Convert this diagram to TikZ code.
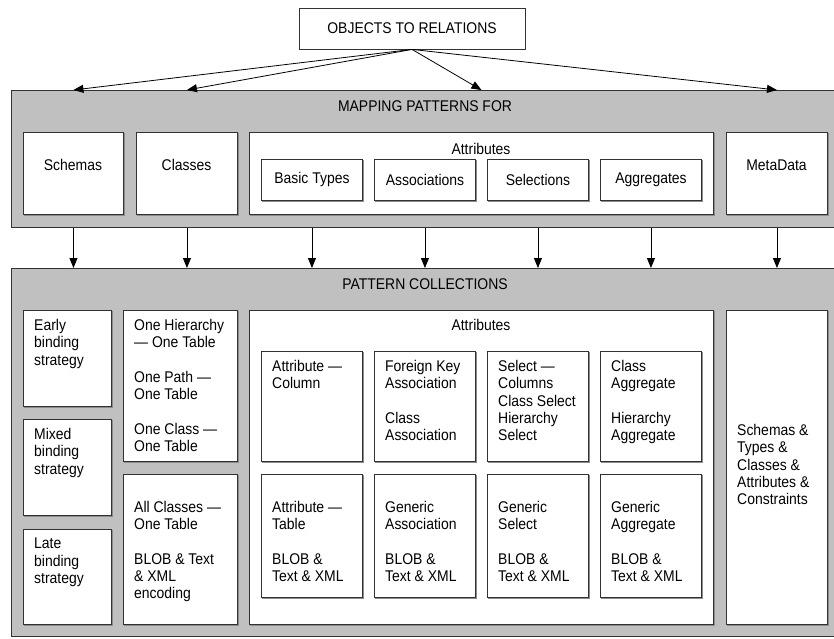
\documentclass[tikz,border=0pt]{standalone}
\usepackage{fontspec}
\setmainfont{Liberation Sans}[FakeStretch=0.9]
\usetikzlibrary{arrows.meta}
\definecolor{panelgray}{RGB}{192,192,192}
\definecolor{edge}{RGB}{50,50,50}
\definecolor{shade}{RGB}{140,140,140}

% a white box with its top-left corner, width and height in pt
\newcommand\cellbox[5]{%
  \node[cellstyle,minimum width=#4pt,minimum height=#5pt] (#1) at (#2,#3) {};}

\begin{document}
\begin{tikzpicture}[x=1pt,y=-1pt,
  panel/.style={draw=edge,line width=0.8pt,fill=panelgray,anchor=north west,inner sep=0pt},
  cellstyle/.style={draw=edge,line width=0.9pt,fill=white,anchor=north west,inner sep=0pt,
    preaction={draw=shade,line width=0.9pt,transform canvas={shift={(1pt,-1pt)}}}},
  lbl/.style={font=\fontsize{15.5}{17.3}\selectfont,inner sep=0pt},
  txt/.style={lbl,align=left,anchor=north west},
  arr/.style={-{Triangle[length=10pt,width=8pt]},line width=0.8pt}]
\clip (0,0) rectangle (834,638);
\fill[white] (0,0) rectangle (834,638);

% top box
\node[draw=edge,line width=0.8pt,fill=white,minimum width=226pt,minimum height=41pt,
      inner sep=0pt,lbl] (top) at (412,28.5) {OBJECTS TO RELATIONS};

% mapping patterns
\node[panel,minimum width=828pt,minimum height=137pt] (mp) at (11,90) {};
\node[lbl] (mphead) at (425,106) {MAPPING PATTERNS FOR};
\cellbox{schemas}{23}{132}{100}{82}
\cellbox{classes}{136}{132}{101}{82}
\cellbox{mattr}{249}{132}{464}{82}
\cellbox{meta}{726}{132}{101}{82}
\node[lbl] (tschemas) at (73,165) {Schemas};
\node[lbl] (tclasses) at (186.5,165) {Classes};
\node[lbl] (tmeta) at (776.5,165) {MetaData};
\node[lbl] (tmattr) at (481,149) {Attributes};
\node[cellstyle,lbl,minimum width=101pt,minimum height=41pt] (basic) at (261,159) {Basic Types};
\node[cellstyle,lbl,minimum width=101pt,minimum height=41pt] (assoc) at (374,159) {Associations};
\node[cellstyle,lbl,minimum width=101pt,minimum height=41pt] (sel) at (487,159) {Selections};
\node[cellstyle,lbl,minimum width=101pt,minimum height=41pt] (agg) at (600,159) {Aggregates};

% pattern collections
\node[panel,minimum width=828pt,minimum height=368pt] (pc) at (11,268) {};
\node[lbl] (pchead) at (425,284) {PATTERN COLLECTIONS};

\cellbox{early}{23}{310}{88}{96}
\cellbox{mixed}{23}{419}{88}{96}
\cellbox{late}{23}{529}{88}{95}
\node[txt] (tearly) at (34,319) {Early\\binding\\strategy};
\node[txt] (tmixed) at (34,428) {Mixed\\binding\\strategy};
\node[txt] (tlate) at (34,538) {Late\\binding\\strategy};

\cellbox{hier}{123}{310}{114}{151}
\cellbox{allcl}{123}{474}{114}{150}
\node[txt] (thier) at (134,319) {One Hierarchy\\— One Table\\[17.3pt]One Path —\\One Table\\[17.3pt]One Class —\\One Table};
\node[txt] (tallcl) at (134,501) {All Classes —\\One Table\\[17.3pt]BLOB \& Text\\\& XML\\encoding};

\cellbox{pattr}{249}{310}{464}{314}
\node[lbl] (tpattr) at (481,325) {Attributes};

\cellbox{acol}{261}{351}{101}{110}
\cellbox{fkey}{374}{351}{101}{110}
\cellbox{scol}{487}{351}{101}{110}
\cellbox{cagg}{600}{351}{101}{110}
\node[txt] (tacol) at (272,360) {Attribute —\\Column};
\node[txt] (tfkey) at (385,360) {Foreign Key\\Association\\[17.3pt]Class\\Association};
\node[txt] (tscol) at (498,360) {Select —\\Columns\\Class Select\\Hierarchy\\Select};
\node[txt] (tcagg) at (611,360) {Class\\Aggregate\\[17.3pt]Hierarchy\\Aggregate};

\cellbox{atab}{261}{474}{101}{123}
\cellbox{gass}{374}{474}{101}{123}
\cellbox{gsel}{487}{474}{101}{123}
\cellbox{gagg}{600}{474}{101}{123}
\node[txt] (tatab) at (272,501) {Attribute —\\Table\\[17.3pt]BLOB \&\\Text \& XML};
\node[txt] (tgass) at (385,501) {Generic\\Association\\[17.3pt]BLOB \&\\Text \& XML};
\node[txt] (tgsel) at (498,501) {Generic\\Select\\[17.3pt]BLOB \&\\Text \& XML};
\node[txt] (tgagg) at (611,501) {Generic\\Aggregate\\[17.3pt]BLOB \&\\Text \& XML};

\cellbox{all}{726}{310}{101}{314}
\node[txt] (tall) at (737,424) {Schemas \&\\Types \&\\Classes \&\\Attributes \&\\Constraints};

% connectors from the root
\draw[arr] (top.south) -- (mp.north -| schemas);
\draw[arr] (top.south) -- (mp.north -| classes);
\draw[arr] (top.south) -- (mp.north -| mattr);
\draw[arr] (top.south) -- (mp.north -| meta);

% connectors between the two levels
\foreach \c in {schemas,classes,basic,assoc,sel,agg,meta}
  \draw[arr] (mp.south -| \c) -- (pc.north -| \c);
\end{tikzpicture}
\end{document}
